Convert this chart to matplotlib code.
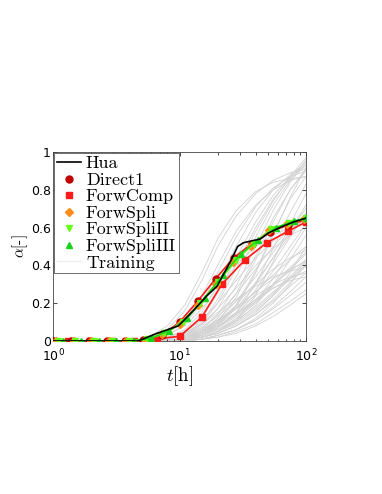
import numpy as np
import matplotlib
matplotlib.use('Agg')
import matplotlib.pyplot as plt
from matplotlib.lines import Line2D

plt.rcParams['mathtext.fontset'] = 'cm'
plt.rcParams['font.family'] = 'DejaVu Sans'

# reference solution (black line)
t_hua = [1, 4.7, 6.6, 9.8, 12.8, 16.5, 19.8, 23, 25.7, 28.8, 32, 43.6, 50, 62, 80, 100]
a_hua = [0, 0, 0.04, 0.08, 0.16, 0.24, 0.29, 0.37, 0.43, 0.50, 0.52, 0.54, 0.57, 0.60, 0.63, 0.65]

# Direct1 (dark red circles, red line)
t_dir = [1.0, 1.39, 1.93, 2.68, 3.73, 5.18, 7.20, 10.0, 13.9, 19.3, 26.8, 37.3, 51.8, 72.0, 100]
a_dir = [0, 0, 0, 0, 0, 0.005, 0.03, 0.10, 0.21, 0.33, 0.44, 0.515, 0.575, 0.615, 0.64]

# ForwComp (red squares)
t_comp = [1.0, 1.32, 1.97, 2.95, 4.4, 6.6, 10.1, 15.0, 21.6, 33, 49, 72, 100]
a_comp = [0, 0, 0, 0, 0, 0.01, 0.026, 0.127, 0.30, 0.43, 0.52, 0.58, 0.63]

# ForwSpli (orange diamonds)
t_spli = [1.05, 1.45, 2.0, 2.75, 3.8, 5.3, 7.3, 10.1, 14, 19.3, 26.7, 36.9, 51, 70.5, 97]
a_spli = [0, 0, 0, 0, 0, 0.007, 0.035, 0.09, 0.19, 0.30, 0.42, 0.505, 0.585, 0.62, 0.645]

# ForwSpliII (light green down triangles)
t_spli2 = [1.1, 1.5, 2.1, 2.9, 4.0, 5.5, 7.6, 10.6, 14.6, 20.2, 28, 38.6, 53.3, 73.7, 100]
a_spli2 = [0, 0, 0, 0, 0, 0.01, 0.04, 0.10, 0.20, 0.31, 0.43, 0.515, 0.59, 0.625, 0.65]

# ForwSpliIII (green up triangles)
t_spli3 = [1.2, 1.65, 2.3, 3.15, 4.35, 6.0, 8.3, 11.5, 15.9, 22, 30.4, 42, 58, 80, 100]
a_spli3 = [0, 0, 0, 0, 0, 0.015, 0.055, 0.12, 0.23, 0.35, 0.46, 0.535, 0.60, 0.635, 0.65]

# training set, every curve sampled on the same times (all start at 0 for t=1)
t_train = [1, 4, 5, 6, 8, 11, 15, 20, 28, 40, 55, 75, 100]
a_train = [
    [0.00, 0.01, 0.02, 0.06, 0.16, 0.32, 0.50, 0.66, 0.78, 0.85, 0.89, 0.91],
    [0.00, 0.00, 0.01, 0.03, 0.09, 0.20, 0.36, 0.55, 0.71, 0.81, 0.87, 0.90],
    [0.00, 0.00, 0.00, 0.02, 0.05, 0.12, 0.25, 0.44, 0.63, 0.77, 0.87, 0.93],
    [0.00, 0.00, 0.00, 0.01, 0.03, 0.08, 0.17, 0.34, 0.55, 0.72, 0.85, 0.93],
    [0.00, 0.00, 0.00, 0.01, 0.02, 0.05, 0.12, 0.25, 0.45, 0.65, 0.80, 0.90],
    [0.00, 0.00, 0.00, 0.00, 0.02, 0.04, 0.09, 0.19, 0.37, 0.57, 0.75, 0.87],
    [0.00, 0.00, 0.00, 0.00, 0.01, 0.03, 0.07, 0.15, 0.30, 0.49, 0.68, 0.83],
    [0.00, 0.00, 0.00, 0.00, 0.01, 0.02, 0.05, 0.11, 0.24, 0.42, 0.62, 0.78],
    [0.00, 0.00, 0.01, 0.04, 0.11, 0.24, 0.40, 0.58, 0.72, 0.80, 0.85, 0.87],
    [0.00, 0.00, 0.00, 0.02, 0.06, 0.15, 0.30, 0.50, 0.68, 0.80, 0.88, 0.94],
    [0.00, 0.00, 0.00, 0.01, 0.04, 0.10, 0.22, 0.40, 0.60, 0.75, 0.86, 0.95],
    [0.00, 0.00, 0.00, 0.00, 0.01, 0.04, 0.10, 0.23, 0.43, 0.63, 0.80, 0.91],
    [0.00, 0.00, 0.00, 0.01, 0.03, 0.09, 0.20, 0.38, 0.58, 0.74, 0.87, 0.97],
    [0.00, 0.00, 0.00, 0.00, 0.02, 0.06, 0.14, 0.29, 0.50, 0.69, 0.84, 0.96],
    [0.00, 0.00, 0.00, 0.00, 0.01, 0.03, 0.08, 0.18, 0.36, 0.56, 0.76, 0.92],
    [0.00, 0.01, 0.03, 0.08, 0.19, 0.36, 0.54, 0.69, 0.79, 0.84, 0.86, 0.87],
    [0.00, 0.00, 0.01, 0.03, 0.08, 0.17, 0.28, 0.40, 0.50, 0.56, 0.60, 0.62],
    [0.00, 0.00, 0.00, 0.02, 0.05, 0.11, 0.20, 0.32, 0.44, 0.53, 0.60, 0.64],
    [0.00, 0.00, 0.00, 0.01, 0.03, 0.07, 0.14, 0.25, 0.38, 0.50, 0.60, 0.67],
    [0.00, 0.00, 0.00, 0.00, 0.02, 0.05, 0.10, 0.19, 0.31, 0.44, 0.56, 0.66],
    [0.00, 0.00, 0.00, 0.00, 0.01, 0.03, 0.07, 0.14, 0.25, 0.37, 0.50, 0.62],
    [0.00, 0.00, 0.00, 0.00, 0.01, 0.02, 0.05, 0.10, 0.19, 0.30, 0.43, 0.56],
    [0.00, 0.00, 0.00, 0.01, 0.04, 0.09, 0.17, 0.28, 0.40, 0.49, 0.56, 0.60],
    [0.00, 0.00, 0.00, 0.00, 0.02, 0.05, 0.11, 0.21, 0.34, 0.47, 0.59, 0.70],
    [0.00, 0.00, 0.00, 0.00, 0.01, 0.04, 0.09, 0.17, 0.30, 0.44, 0.58, 0.72],
    [0.00, 0.00, 0.00, 0.00, 0.00, 0.02, 0.05, 0.11, 0.21, 0.33, 0.47, 0.60],
    [0.00, 0.00, 0.00, 0.00, 0.01, 0.03, 0.07, 0.15, 0.27, 0.41, 0.55, 0.68],
    [0.00, 0.00, 0.00, 0.01, 0.04, 0.09, 0.15, 0.22, 0.29, 0.34, 0.37, 0.39],
    [0.00, 0.00, 0.00, 0.01, 0.02, 0.06, 0.11, 0.18, 0.26, 0.33, 0.38, 0.42],
    [0.00, 0.00, 0.00, 0.00, 0.02, 0.04, 0.08, 0.14, 0.22, 0.30, 0.37, 0.43],
    [0.00, 0.00, 0.00, 0.00, 0.01, 0.03, 0.06, 0.11, 0.18, 0.26, 0.33, 0.40],
    [0.00, 0.00, 0.00, 0.00, 0.01, 0.02, 0.04, 0.08, 0.14, 0.21, 0.29, 0.36],
    [0.00, 0.00, 0.00, 0.00, 0.00, 0.01, 0.03, 0.06, 0.11, 0.17, 0.24, 0.31],
    [0.00, 0.00, 0.00, 0.00, 0.00, 0.01, 0.02, 0.05, 0.09, 0.15, 0.21, 0.27],
    [0.00, 0.00, 0.00, 0.01, 0.03, 0.07, 0.13, 0.21, 0.30, 0.38, 0.44, 0.48],
    [0.00, 0.00, 0.00, 0.00, 0.02, 0.05, 0.10, 0.17, 0.26, 0.35, 0.43, 0.50],
    [0.00, 0.00, 0.00, 0.00, 0.01, 0.03, 0.07, 0.13, 0.21, 0.30, 0.39, 0.47],
    [0.00, 0.00, 0.00, 0.00, 0.01, 0.02, 0.05, 0.10, 0.17, 0.25, 0.34, 0.43],
    [0.00, 0.00, 0.00, 0.00, 0.00, 0.02, 0.04, 0.08, 0.14, 0.22, 0.31, 0.40],
    [0.00, 0.00, 0.00, 0.00, 0.00, 0.01, 0.03, 0.06, 0.11, 0.18, 0.26, 0.34],
    [0.00, 0.00, 0.00, 0.01, 0.03, 0.06, 0.11, 0.17, 0.24, 0.30, 0.34, 0.36],
    [0.00, 0.00, 0.00, 0.00, 0.01, 0.04, 0.08, 0.14, 0.21, 0.28, 0.33, 0.37],
    [0.00, 0.00, 0.00, 0.00, 0.01, 0.03, 0.06, 0.12, 0.20, 0.29, 0.38, 0.46],
    [0.00, 0.00, 0.00, 0.00, 0.01, 0.02, 0.05, 0.09, 0.16, 0.24, 0.33, 0.42],
    [0.00, 0.00, 0.00, 0.00, 0.00, 0.01, 0.02, 0.04, 0.08, 0.13, 0.19, 0.25],
    [0.00, 0.00, 0.00, 0.00, 0.01, 0.02, 0.04, 0.08, 0.15, 0.24, 0.36, 0.50],
    [0.00, 0.00, 0.00, 0.00, 0.00, 0.01, 0.03, 0.06, 0.12, 0.20, 0.30, 0.41],
    [0.00, 0.00, 0.00, 0.01, 0.02, 0.05, 0.09, 0.15, 0.22, 0.28, 0.32, 0.34],
]

legend_labels = ['Hua', 'Direct1', 'ForwComp', 'ForwSpli', 'ForwSpliII', 'ForwSpliIII', 'Training']

c_train = '#d2d2d2'
c_dir = '#c00000'
c_red = '#ff1a1a'
c_orange = '#ff8c1a'
c_lgreen = '#66ff1a'
c_green = '#1ad11a'

fig = plt.figure(figsize=(3.82, 4.94), dpi=100)
ax = fig.add_axes([0.139, 0.3097, 0.662, 0.3826])

for row in a_train:
    ax.plot(t_train, [0] + row, color=c_train, lw=0.6, zorder=1)

ms = 4.5
ax.plot(t_comp, a_comp, '-', color=c_red, lw=1.2, marker='s', ms=ms, mfc=c_red, mec=c_red, zorder=3)
ax.plot(t_dir, a_dir, '-', color=c_red, lw=1.2, zorder=3)
ax.plot(t_dir, a_dir, 'o', color=c_dir, ms=ms + 0.5, zorder=4)
ax.plot(t_spli, a_spli, '-', color=c_orange, lw=1.0, marker='D', ms=ms - 0.8, zorder=4)
ax.plot(t_spli2, a_spli2, '-', color=c_lgreen, lw=1.4, marker='v', ms=ms + 0.5, zorder=5)
ax.plot(t_spli3, a_spli3, '-', color=c_green, lw=1.0, marker='^', ms=ms + 0.5, zorder=5)
ax.plot(t_hua, a_hua, '-', color='black', lw=1.2, zorder=6)

ax.set_xscale('log')
ax.set_xlim(1, 100)
ax.set_ylim(0, 1)
ax.set_yticks([0, 0.2, 0.4, 0.6, 0.8, 1])
ax.set_yticklabels(['0', '0.2', '0.4', '0.6', '0.8', '1'])
ax.tick_params(which='both', direction='in', top=True, right=True, labelsize=9, width=0.5)
ax.tick_params(which='major', length=3)
ax.tick_params(which='minor', length=1.8)
ax.tick_params(axis='y', pad=1.5)
ax.tick_params(axis='x', pad=5)
for s in ax.spines.values():
    s.set_linewidth(0.6)
    s.set_color('#444444')

ax.set_xlabel(r'$t$[h]', family='cmr10', fontsize=13.5, labelpad=0)
ax.set_ylabel(r'$\alpha$[-]', family='cmr10', fontsize=11, labelpad=1)

handles = [
    Line2D([], [], color='black', lw=1.2),
    Line2D([], [], ls='none', marker='o', color=c_dir, ms=ms + 0.5),
    Line2D([], [], ls='none', marker='s', color=c_red, ms=ms),
    Line2D([], [], ls='none', marker='D', color=c_orange, ms=ms - 0.8),
    Line2D([], [], ls='none', marker='v', color=c_lgreen, ms=ms + 0.5),
    Line2D([], [], ls='none', marker='^', color=c_green, ms=ms + 0.5),
    Line2D([], [], color='#eeeeee', lw=1.0),
]
leg = ax.legend(handles, legend_labels, loc='upper left', bbox_to_anchor=(0.005, 0.995),
                borderaxespad=0, prop={'family': 'cmr10', 'size': 13}, frameon=True,
                fancybox=False, handlelength=1.3, handletextpad=0.3, labelspacing=0.05,
                borderpad=0.15, framealpha=1)
leg.get_frame().set_edgecolor('#555555')
leg.get_frame().set_linewidth(0.6)

fig.savefig('out.png', dpi=100)
